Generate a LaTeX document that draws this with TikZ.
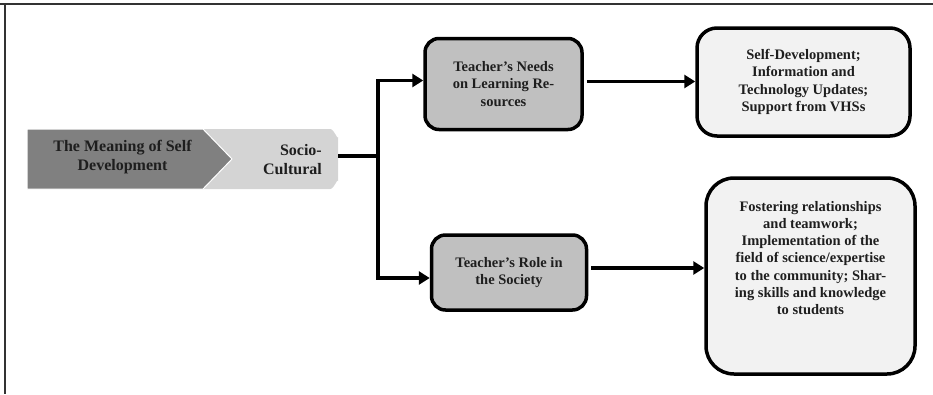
\documentclass[tikz,border=0pt]{standalone}
\usepackage{fontspec}
\setmainfont{Liberation Serif}
\usetikzlibrary{arrows.meta}
\definecolor{darkchev}{RGB}{128,128,128}
\definecolor{lightchev}{RGB}{212,212,212}
\definecolor{midbox}{RGB}{192,192,192}
\definecolor{palebox}{RGB}{242,242,242}
\definecolor{inkc}{RGB}{30,30,30}
\tikzset{
  framelin/.style={line width=1.5pt, draw=black!80},
  chevtext/.style={font=\fontsize{16}{19}\selectfont\bfseries, text=inkc, inner sep=0pt},
  boxtext/.style={font=\fontsize{14.5}{17.3}\selectfont\bfseries, text=inkc, align=center},
  graybox/.style={draw=black, line width=3.5pt, fill=midbox, rounded corners=14pt, boxtext},
  palebx/.style={draw=black, line width=3.5pt, fill=palebox, boxtext},
  conn/.style={line width=3.5pt, draw=black},
  arr/.style={conn, -{Triangle[length=11pt,width=13pt]}},
}
\begin{document}
\begin{tikzpicture}[x=1pt,y=-1pt]
\useasboundingbox (0,0) rectangle (933,394);
% frame
\draw[framelin] (0,4) -- (933,4);
\draw[framelin] (5,4) -- (5,394);
% chevron group
\fill[lightchev] (203,129) -- (330,129) to[out=0,in=-90] (338,137) -- (338,181) to[out=90,in=0] (330,189) -- (203,189) -- (232,159) -- cycle;
\fill[darkchev, draw=white, line width=1pt] (27,129) -- (203,129) -- (232,159) -- (203,189) -- (27,189) -- cycle;
\node[chevtext, align=center] (meaning) at (122.5,157) {The Meaning of Self\\Development};
\node[chevtext, align=right, anchor=east] (socio) at (322,160) {Socio-\\Cultural};
\coordinate (socioEdge) at (338,156);
\coordinate (split) at (378,156);
% boxes
\node[graybox, minimum width=157pt, minimum height=91pt] (needs) at (503.5,84) {Teacher’s Needs\\on Learning Re-\\sources};
\node[graybox, minimum width=155pt, minimum height=75pt] (role) at (509,272.5) {Teacher’s Role in\\the Society};
\node[palebx, rounded corners=20pt, minimum width=213pt, minimum height=108pt] (selfdev) at (803.5,82) {Self-Development;\\Information and\\Technology Updates;\\Support from VHSs};
\node[palebx, rounded corners=28pt, minimum width=209pt, minimum height=196pt] (foster) at (810.5,276) {};
\node[boxtext] (fostertxt) at (810.5,258) {Fostering relationships\\and teamwork;\\Implementation of the\\field of science/expertise\\to the community; Shar-\\ing skills and knowledge\\to students};
% connectors
\draw[conn] (socioEdge) -- (split);
\draw[arr] (split) |- ([yshift=3.5pt]needs.west);
\draw[arr] (split) |- ([yshift=-5.5pt]role.west);
\draw[arr] ([xshift=3pt,yshift=2.5pt]needs.east) -- ([yshift=2.5pt]needs.east -| selfdev.west);
\draw[arr] ([xshift=3pt,yshift=4.5pt]role.east) -- ([yshift=4.5pt]role.east -| foster.west);
\end{tikzpicture}
\end{document}
